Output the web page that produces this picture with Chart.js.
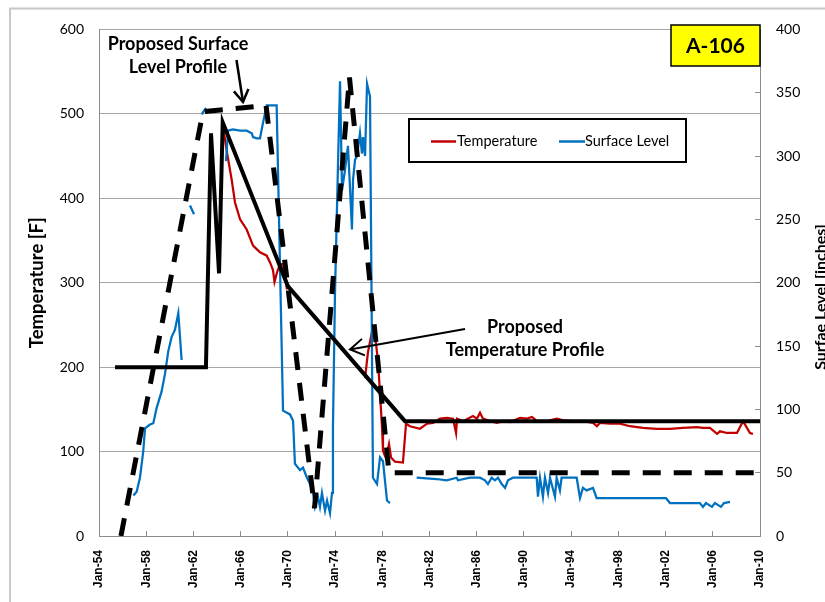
<!DOCTYPE html>
<html>
<head>
<meta charset="utf-8">
<script src="https://cdn.jsdelivr.net/npm/chart.js@4.4.1/dist/chart.umd.min.js"></script>
<style>
  html, body { margin: 0; padding: 0; background: #fff; overflow: hidden; }
  #wrap { position: relative; width: 825px; height: 602px; }
  canvas { display: block; }
</style>
</head>
<body>
<div id="wrap"><canvas id="c" width="825" height="602"></canvas></div>
<script>
// Tick labels for the time axis (one every four years)
const tickLabels = ['Jan-54','Jan-58','Jan-62','Jan-66','Jan-70','Jan-74','Jan-78',
                    'Jan-82','Jan-86','Jan-90','Jan-94','Jan-98','Jan-02','Jan-06','Jan-10'];

// Measured tank temperature [F] (null = no readings)
const tempYears = [1964.48,1964.81,1965.24,1965.52,1965.95,1966.51,1967.05,1967.64,1968.21,1968.49,
  1968.74,1968.87,1969.08,1969.33,1969.59,1969.93,1973.00,1976.54,1976.79,1977.13,1977.38,1977.64,
  1977.81,1977.98,1978.06,1978.31,1978.57,1978.74,1979.08,1979.75,1980.01,1980.35,1981.19,1981.79,
  1982.30,1982.89,1983.48,1983.99,1984.25,1984.33,1984.84,1985.68,1986.02,1986.28,1986.53,1987.12,
  1987.72,1988.23,1988.82,1989.67,1990.26,1990.68,1991.11,1991.95,1992.80,1993.31,1994.16,1995.00,
  1995.85,1996.19,1996.44,1997.29,1998.14,1998.98,2000.09,2001.27,2002.37,2003.47,2004.66,2005.17,
  2005.76,2006.36,2006.61,2007.20,2008.05,2008.56,2009.15,2009.40];
const tempValues = [488,457,422,395,375,363,344,336,332,324,
  315,301,312,322,322,292,null,187,218,242,238,207,
  168,128,101,92,109,93,88,87,133,130,127,133,
  134,139,140,139,122,139,136,142,139,146,139,136,
  134,136,135,140,139,141,136,136,139,137,136,136,
  134,130,134,133,133,130,128,127,127,128,129,128,
  128,121,124,122,122,136,122,121];

// Measured waste surface level [inches] (null = no readings)
const levelYears = [1956.91,1957.19,1957.47,1957.75,1957.90,1958.32,1958.60,1958.88,1959.30,1959.59,
  1959.87,1960.15,1960.44,1960.72,1961.00,1961.35,1961.71,1962.05,1962.40,1962.70,1963.06,1964.00,
  1964.76,1964.93,1965.35,1965.95,1966.51,1966.94,1967.05,1967.36,1967.64,1967.89,1968.21,1969.05,
  1969.59,1970.18,1970.44,1970.60,1971.03,1971.28,1971.62,1971.88,1972.13,1972.30,1972.55,1972.72,
  1972.89,1973.15,1973.32,1973.57,1973.74,1973.82,1973.99,1974.25,1974.42,1974.59,1974.84,1975.09,
  1975.26,1975.43,1975.52,1975.69,1975.86,1976.11,1976.28,1976.37,1976.54,1976.71,1976.96,1977.21,
  1977.55,1977.81,1978.06,1978.40,1978.65,1979.80,1980.91,1982.60,1983.45,1984.30,1984.41,1985.43,
  1986.28,1986.70,1986.95,1987.27,1987.55,1987.80,1988.12,1988.40,1988.65,1989.07,1991.08,1991.19,
  1991.36,1991.61,1991.78,1992.04,1992.21,1992.63,1992.77,1993.05,1993.19,1994.47,1994.75,1995.00,
  1995.31,1995.85,1996.16,1997.29,1999.55,2002.03,2002.37,2004.91,2005.17,2005.42,2005.93,2006.18,
  2006.69,2006.95,2007.46];
const levelValues = [32,35,46,67,85,88,89,101,114,128,
  146,157,163,176,139,null,261,254,null,333,338,null,
  296,320,321,320,320,318,315,314,314,326,340,340,
  99,96,91,57,52,54,46,41,34,23,31,23,
  34,20,28,18,34,85,190,294,359,273,289,308,
  276,242,281,297,300,318,302,315,300,357,347,46,
  41,62,59,28,26,null,46,45,44,46,44,46,
  46,44,41,46,44,46,41,38,44,46,46,31,
  46,31,46,34,46,31,46,36,46,46,30,38,
  36,38,30,30,30,30,26,26,23,26,23,26,
  23,26,27];

// Proposed temperature profile [F]
const tempProfileYears  = [1955.36, 1963.06, 1963.49, 1964.17, 1964.48, 1970.00, 1979.92, 2010.00];
const tempProfileValues = [200, 200, 477, 311, 490, 296, 136, 136];

// Proposed surface level profile [inches]
const levelProfileYears  = [1955.86, 1962.81, 1968.15, 1972.26, 1975.22, 1978.57, 2010.00];
const levelProfileValues = [0, 335, 340, 22, 362, 50, 50];

const toPoints = (xs, ys) => xs.map((x, i) => ({ x: x, y: ys[i] }));

const FONT = 'Lato, "Open Sans", sans-serif';

function arrow(ctx, x1, y1, x2, y2, width, head) {
  ctx.strokeStyle = '#000';
  ctx.lineWidth = width;
  ctx.lineCap = 'butt';
  ctx.lineJoin = 'miter';
  ctx.beginPath(); ctx.moveTo(x1, y1); ctx.lineTo(x2, y2); ctx.stroke();
  const a = Math.atan2(y2 - y1, x2 - x1);
  ctx.beginPath();
  ctx.moveTo(x2 - head * Math.cos(a - 0.55), y2 - head * Math.sin(a - 0.55));
  ctx.lineTo(x2, y2);
  ctx.lineTo(x2 - head * Math.cos(a + 0.55), y2 - head * Math.sin(a + 0.55));
  ctx.stroke();
}

// Frame, legend, tag box, callouts and the secondary axis title
const decorations = {
  id: 'decorations',
  afterDraw(chart) {
    const ctx = chart.ctx;
    ctx.save();

    // outer chart frame
    ctx.strokeStyle = '#c8c8c8';
    ctx.lineWidth = 2;
    ctx.beginPath();
    ctx.moveTo(10, 602); ctx.lineTo(10, 8.5); ctx.lineTo(825, 8.5);
    ctx.stroke();

    // tank tag
    ctx.fillStyle = '#ffff00';
    ctx.fillRect(671, 25, 89, 41);
    ctx.strokeStyle = '#000';
    ctx.lineWidth = 1.5;
    ctx.strokeRect(671, 25, 89, 41);
    ctx.fillStyle = '#000';
    ctx.font = 'bold 21px ' + FONT;
    ctx.textAlign = 'center';
    ctx.textBaseline = 'middle';
    ctx.fillText('A-106', 715.5, 46);

    // legend
    ctx.fillStyle = '#fff';
    ctx.fillRect(409, 119, 277, 43);
    ctx.strokeStyle = '#000';
    ctx.lineWidth = 2;
    ctx.strokeRect(409, 119, 277, 43);
    ctx.lineWidth = 2.5;
    ctx.strokeStyle = '#c00000';
    ctx.beginPath(); ctx.moveTo(431, 141.5); ctx.lineTo(456, 141.5); ctx.stroke();
    ctx.strokeStyle = '#0070c0';
    ctx.beginPath(); ctx.moveTo(559, 141.5); ctx.lineTo(585, 141.5); ctx.stroke();
    ctx.fillStyle = '#000';
    ctx.font = '14.5px ' + FONT;
    ctx.textAlign = 'left';
    ctx.fillText('Temperature', 457, 141.5);
    ctx.fillText('Surface Level', 585, 141.5);

    // callouts
    ctx.font = 'bold 18px ' + FONT;
    ctx.textAlign = 'center';
    ctx.fillText('Proposed Surface', 178, 44);
    ctx.fillText('Level Profile', 178, 67);
    arrow(ctx, 236.5, 60, 243, 102, 2.5, 14);

    ctx.fillText('Proposed', 525, 327);
    ctx.fillText('Temperature Profile', 525, 350);
    arrow(ctx, 465, 329, 350, 349.5, 2, 16);

    // secondary axis title (runs off the right edge)
    ctx.save();
    ctx.translate(826, 297);
    ctx.rotate(-Math.PI / 2);
    ctx.font = 'bold 16px ' + FONT;
    ctx.textAlign = 'center';
    ctx.textBaseline = 'alphabetic';
    ctx.fillText('Surfae Level [inches]', 0, 0);
    ctx.restore();

    ctx.restore();
  }
};

const GRID = '#a6a6a6';
const AXIS = '#8c8c8c';

new Chart(document.getElementById('c'), {
  type: 'line',
  data: {
    datasets: [
      {
        label: 'Proposed Surface Level Profile',
        data: toPoints(levelProfileYears, levelProfileValues),
        yAxisID: 'y1',
        borderColor: '#000',
        borderWidth: 5,
        borderDash: [18, 13],
        borderCapStyle: 'butt',
        borderJoinStyle: 'bevel',
        pointRadius: 0,
        tension: 0
      },
      {
        label: 'Proposed Temperature Profile',
        data: toPoints(tempProfileYears, tempProfileValues),
        yAxisID: 'y',
        borderColor: '#000',
        borderWidth: 4,
        borderJoinStyle: 'miter',
        pointRadius: 0,
        tension: 0
      },
      {
        label: 'Surface Level',
        data: toPoints(levelYears, levelValues),
        yAxisID: 'y1',
        borderColor: '#0070c0',
        borderWidth: 2.25,
        pointRadius: 0,
        spanGaps: false,
        tension: 0
      },
      {
        label: 'Temperature',
        data: toPoints(tempYears, tempValues),
        yAxisID: 'y',
        borderColor: '#c00000',
        borderWidth: 2.25,
        pointRadius: 0,
        spanGaps: false,
        tension: 0
      }
    ]
  },
  options: {
    responsive: false,
    animation: false,
    devicePixelRatio: 1,
    layout: { padding: { left: 0, right: 0, top: 25, bottom: 0 } },
    plugins: {
      legend: { display: false },
      tooltip: { enabled: false }
    },
    scales: {
      x: {
        type: 'linear',
        min: 1954,
        max: 2010,
        afterFit: (s) => { s.height = 66; },
        afterBuildTicks: (s) => {
          s.ticks = tickLabels.map((_, i) => ({ value: 1954 + 4 * i }));
        },
        ticks: {
          autoSkip: false,
          minRotation: 90,
          maxRotation: 90,
          padding: 19,
          color: '#000',
          font: { family: '"Liberation Sans", Arial, sans-serif', weight: 'bold', size: 12 },
          callback: (v, i) => tickLabels[i]
        },
        grid: { drawOnChartArea: false, drawTicks: true, tickLength: -5, color: AXIS },
        border: { color: AXIS, width: 1 }
      },
      y: {
        position: 'left',
        min: 0,
        max: 600,
        afterFit: (s) => { s.width = 99; },
        ticks: {
          stepSize: 100,
          padding: 15,
          color: '#000',
          font: { family: FONT, size: 14 }
        },
        grid: { color: GRID, drawTicks: false },
        border: { color: AXIS, width: 1 },
        title: {
          display: true,
          text: 'Temperature [F]',
          color: '#000',
          font: { family: FONT, weight: 'bold', size: 18.5 },
          padding: { top: 26, bottom: 0 }
        }
      },
      y1: {
        position: 'right',
        min: 0,
        max: 400,
        afterFit: (s) => { s.width = 65; },
        ticks: {
          stepSize: 50,
          padding: 21,
          color: '#000',
          font: { family: FONT, size: 14 }
        },
        grid: { drawOnChartArea: false, drawTicks: true, tickLength: -5, color: AXIS },
        border: { color: AXIS, width: 1 }
      }
    }
  },
  plugins: [decorations]
});
</script>
</body>
</html>
